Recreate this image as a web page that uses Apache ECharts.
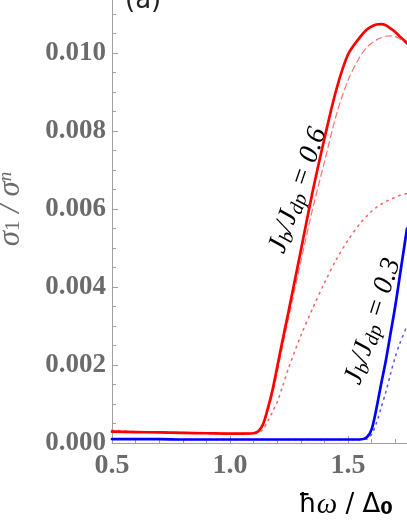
<!DOCTYPE html>
<html>
<head>
<meta charset="utf-8">
<script src="https://cdn.jsdelivr.net/npm/echarts@6/dist/echarts.min.js"></script>
<style>
  html, body { margin: 0; padding: 0; background: #fff; }
  #chart { width: 407px; height: 527px; }
</style>
</head>
<body>
<div id="chart"></div>
<script>
// photon energy grid (hbar*omega / Delta_0)
const energy = [0.5, 0.6, 0.7, 0.8, 0.9, 1.0, 1.05, 1.1, 1.12, 1.14, 1.16, 1.18, 1.2, 1.22, 1.25, 1.3,
  1.35, 1.4, 1.45, 1.5, 1.55, 1.58, 1.6, 1.62, 1.64, 1.66, 1.68, 1.7, 1.72, 1.75]

// Jb/Jdp = 0.6
const red06Solid = [0.00029, 0.00028, 0.00027, 0.00026, 0.00025, 0.00024, 0.00024, 0.00025, 0.00030, 0.00048,
  0.00088, 0.00136, 0.00195, 0.00255, 0.00343, 0.00493, 0.00644, 0.0078, 0.00905, 0.00996,
  0.0104, 0.0106, 0.01068, 0.01073, 0.01074, 0.01071, 0.01063, 0.01054, 0.01042, 0.01026]
const red06Dashed = [0.00030, 0.00029, 0.00028, 0.00027, 0.00026, 0.00025, 0.00025, 0.00026, 0.00030, 0.00044,
  0.00080, 0.00125, 0.0018, 0.0024, 0.00325, 0.00465, 0.0060, 0.0072, 0.0084, 0.0093,
  0.0099, 0.01015, 0.01025, 0.01033, 0.01039, 0.01043, 0.01044, 0.01042, 0.01036, 0.01022]
const red06Dotted = [0.00033, 0.00029, 0.00027, 0.00026, 0.00025, 0.00024, 0.00024, 0.00024, 0.00026, 0.00035,
  0.00056, 0.0008, 0.00105, 0.0014, 0.00195, 0.00275, 0.00345, 0.0041, 0.0047, 0.0052,
  0.00562, 0.00582, 0.00594, 0.00604, 0.00612, 0.00619, 0.00625, 0.0063, 0.00635, 0.0064]

// Jb/Jdp = 0.3
const blue03Solid = [0.00010, 0.00010, 0.00010, 0.00009, 0.00009, 0.00009, 0.00009, 0.00009, 0.00009, 0.00009,
  0.00009, 0.00009, 0.00009, 0.00009, 0.00009, 0.00009, 0.00009, 0.00009, 0.00009, 0.00009,
  0.00009, 0.00015, 0.00035, 0.00087, 0.0015, 0.0021, 0.0028, 0.0035, 0.0043, 0.0055]
const blue03Dotted = [0.00010, 0.00010, 0.00010, 0.00009, 0.00009, 0.00009, 0.00009, 0.00009, 0.00009, 0.00009,
  0.00009, 0.00009, 0.00009, 0.00009, 0.00009, 0.00009, 0.00009, 0.00009, 0.00009, 0.00009,
  0.00009, 0.00010, 0.00022, 0.0005, 0.0009, 0.0013, 0.00177, 0.0022, 0.00256, 0.0030]

const xTicks = { min: 0.5, max: 2.0, step: 0.5 }
const yTicks = { min: 0, max: 0.012, step: 0.002 }

const serif = '"Liberation Serif", "DejaVu Serif", serif'
const gray = '#6b6b6b'

const chart = echarts.init(document.getElementById('chart'))

function pairs(ys) {
  return energy.map((x, i) => [x, ys[i]])
}

function curve(name, ys, color, width, type, z) {
  return {
    name: name,
    type: 'line',
    data: pairs(ys),
    showSymbol: false,
    smooth: 0.3,
    z: z,
    lineStyle: { color: color, width: width, type: type, cap: 'round', join: 'round' },
    emphasis: { disabled: true },
  }
}

const option = {
  animation: false,
  grid: { left: 112, right: -59, top: -25, bottom: 84, outerBoundsMode: 'none' },
  xAxis: {
    type: 'value',
    min: xTicks.min,
    max: xTicks.max,
    interval: xTicks.step,
    axisLine: { lineStyle: { color: '#a0a0a0', width: 1 } },
    axisTick: { inside: true, length: 7, lineStyle: { color: '#a0a0a0' } },
    minorTick: { show: true, splitNumber: 5, length: 4, lineStyle: { color: '#a0a0a0' } },
    splitLine: { show: false },
    axisLabel: {
      margin: 9,
      color: gray,
      fontFamily: serif,
      fontWeight: 'bold',
      fontSize: 28,
      formatter: (v) => v.toFixed(1),
    },
  },
  yAxis: {
    type: 'value',
    min: yTicks.min,
    max: yTicks.max,
    interval: yTicks.step,
    axisLine: { show: true, lineStyle: { color: '#a0a0a0', width: 1 } },
    axisTick: { show: true, inside: true, length: 6, lineStyle: { color: '#a0a0a0' } },
    minorTick: { show: true, splitNumber: 4, length: 4, lineStyle: { color: '#a0a0a0' } },
    splitLine: { show: false },
    axisLabel: {
      margin: 6,
      color: gray,
      fontFamily: serif,
      fontWeight: 'bold',
      fontSize: 27,
      formatter: (v) => v.toFixed(3),
    },
    name: '{i|σ}{s|1}{i| / σ}{si|n}',
    nameLocation: 'middle',
    nameRotate: 90,
    nameGap: 86,
    nameTextStyle: {
      color: gray,
      rich: {
        i: { fontFamily: serif, fontStyle: 'italic', fontSize: 31, color: gray },
        s: { fontFamily: serif, fontSize: 21, color: gray, padding: [6, 0, 0, 0] },
        si: { fontFamily: serif, fontStyle: 'italic', fontSize: 19, color: gray, padding: [0, 0, 9, 0] },
      },
    },
  },
  series: [
    curve('0.6 dotted', red06Dotted, '#ff6666', 1.6, [1.5, 5], 2),
    curve('0.6 dashed', red06Dashed, '#ff7070', 1.2, [6, 4], 2),
    curve('0.3 dotted', blue03Dotted, '#5a5aff', 1.6, [1.5, 5], 2),
    curve('0.6', red06Solid, '#ff0000', 2.7, 'solid', 3),
    curve('0.3', blue03Solid, '#0000ff', 2.7, 'solid', 3),
  ],
}

chart.setOption(option)

// curve labels placed along the rising edges, in data coordinates
const labelRich = (color) => ({
  i: { fontFamily: serif, fontStyle: 'italic', fontSize: 28, color: color },
  s: { fontFamily: serif, fontStyle: 'italic', fontSize: 20, color: color, padding: [11, 0, 0, 0] },
})
const redAt = chart.convertToPixel({ gridIndex: 0 }, [1.288, 0.00648])
const blueAt = chart.convertToPixel({ gridIndex: 0 }, [1.606, 0.00312])
const xNameAt = chart.convertToPixel({ gridIndex: 0 }, [1.49, 0])

chart.setOption({
  graphic: [
    {
      type: 'text', x: redAt[0], y: redAt[1], rotation: 71 * Math.PI / 180,
      style: {
        text: '{i|J}{s|b}{i|/J}{s|dp}{i| = 0.6}',
        align: 'center', verticalAlign: 'middle', rich: labelRich('#ff0000'),
      },
    },
    {
      type: 'text', x: blueAt[0], y: blueAt[1], rotation: 72 * Math.PI / 180,
      style: {
        text: '{i|J}{s|b}{i|/J}{s|dp}{i| = 0.3}',
        align: 'center', verticalAlign: 'middle', rich: labelRich('#0000ff'),
      },
    },
    {
      type: 'text', x: xNameAt[0], y: xNameAt[1] + 62,
      style: {
        text: '{t|ħ}{w|ω}{t| / Δ}{s|0}',
        align: 'center', verticalAlign: 'middle',
        rich: {
          t: { fontFamily: '"DejaVu Sans", sans-serif', fontSize: 26, color: gray },
          w: { fontFamily: serif, fontStyle: 'italic', fontSize: 29, color: gray },
          s: { fontFamily: '"DejaVu Sans", sans-serif', fontWeight: 'bold', fontSize: 18, color: gray, padding: [9, 0, 0, 0] },
        },
      },
    },
    {
      type: 'text', x: 125, y: 14,
      style: {
        text: '(a)', fontFamily: '"DejaVu Sans", sans-serif', fontSize: 26,
        fill: '#222', align: 'left', verticalAlign: 'bottom',
      },
    },
  ],
})
</script>
</body>
</html>
